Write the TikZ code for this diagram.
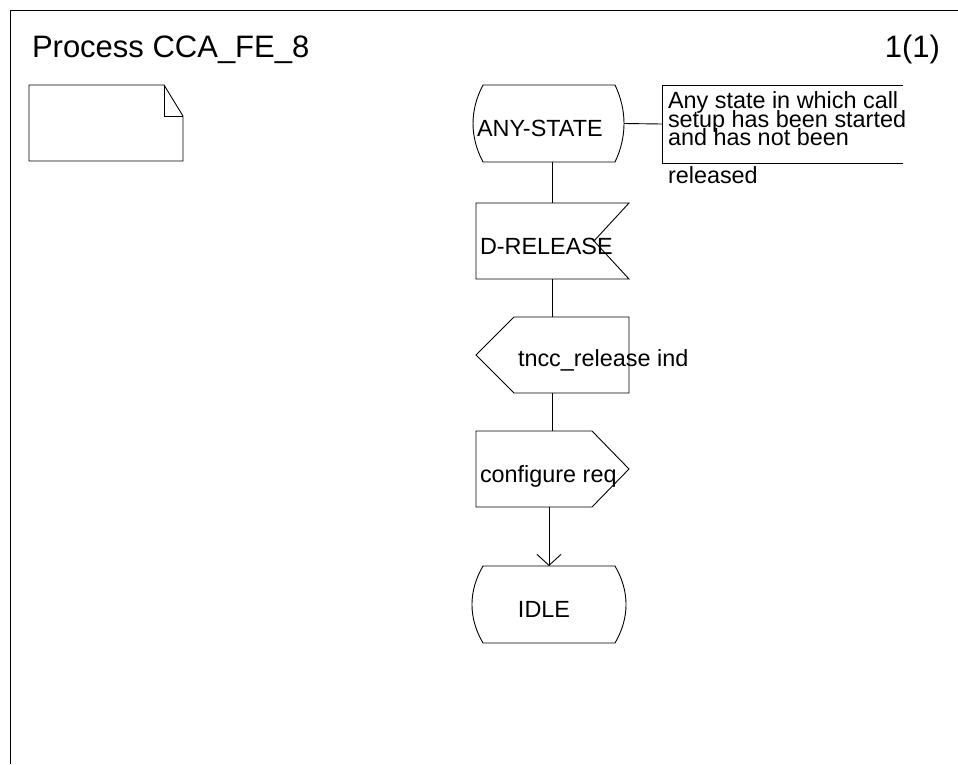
\documentclass[tikz,border=0pt]{standalone}
\usepackage{fontspec}
\setmainfont{Liberation Sans}
\usetikzlibrary{arrows.meta,calc}
\begin{document}
\begin{tikzpicture}[x=1pt,y=-1pt, line width=0.9pt,
  sym/.style={draw=none, inner sep=0, outer sep=0, rectangle},
  lbl/.style={inner sep=0, outer sep=0, anchor=base west, font=\fontsize{23.4}{28}\selectfont},
  ttl/.style={inner sep=0, outer sep=0, anchor=base west, font=\fontsize{31}{37}\selectfont},
  flow/.style={draw, line width=0.9pt},
  arr/.style={flow, -{Straight Barb[length=11pt,width=24pt]}}]
\useasboundingbox (0,0) rectangle (958,764);
% frame
\draw (958,10) -- (10,10) -- (10,764);
% title
\node[ttl] (title) at (32,57) {Process CCA\_FE\_8};
\node[ttl, anchor=base east] (page) at (940,57) {1(1)};
% text symbol
\node[sym, minimum width=154, minimum height=76] (txt) at (106,123) {};
\draw (txt.south west) -- (txt.north west) -- ($(txt.north east)+(-19,0)$) -- ($(txt.north east)+(0,31)$) -- (txt.south east) -- cycle;
\draw ($(txt.north east)+(-19,0)$) -- ($(txt.north east)+(-19,31)$) -- ($(txt.north east)+(0,31)$);
% ANY-STATE
\node[sym, minimum width=151, minimum height=77] (anystate) at (548.5,123.5) {};
\draw ($(anystate.north west)+(10,0)$) -- ($(anystate.north east)+(-9,0)$)
  .. controls ($(anystate.north east)+(3,25)$) and ($(anystate.south east)+(3,-25)$) .. ($(anystate.south east)+(-9,0)$)
  -- ($(anystate.south west)+(10,0)$)
  .. controls ($(anystate.south west)+(-3.3,-25)$) and ($(anystate.north west)+(-3.3,25)$) .. cycle;
\node[lbl] (anystatel) at (477,136) {ANY-STATE};
% comment
\node[sym, minimum width=241, minimum height=78] (note) at (782.5,124) {};
\draw (note.north east) -- (note.north west) -- (note.south west) -- (note.south east);
\draw[flow] (anystate.east) -- (note.west);
\node[lbl] (n1) at (668,108) {Any state in which call};
\node[lbl] (n2) at (668,127) {setup has been started};
\node[lbl] (n3) at (668,145) {and has not been};
\node[lbl] (n4) at (668,183) {released};
% D-RELEASE input
\node[sym, minimum width=153, minimum height=76] (drel) at (552.5,241) {};
\draw (drel.north west) -- (drel.north east) -- ($(drel.east)+(-35,0)$) -- (drel.south east) -- (drel.south west) -- cycle;
\node[lbl] (drell) at (480,254) {D-RELEASE};
\draw[flow] (anystate.south -| drel.north) -- (drel.north);
% tncc_release ind
\node[sym, minimum width=153, minimum height=76] (tncc) at (552.5,355) {};
\draw ($(tncc.north west)+(38,0)$) -- (tncc.north east) -- (tncc.south east) -- ($(tncc.south west)+(38,0)$) -- (tncc.west) -- cycle;
\node[lbl] (tnccl) at (518,366) {tncc\_release ind};
\draw[flow] (drel.south) -- (tncc.north);
% configure req output
\node[sym, minimum width=153, minimum height=76] (cfg) at (552.5,469) {};
\draw (cfg.north west) -- ($(cfg.north east)+(-37,0)$) -- (cfg.east) -- ($(cfg.south east)+(-37,0)$) -- (cfg.south west) -- cycle;
\node[lbl] (cfgl) at (480,482) {configure req};
\draw[flow] (tncc.south) -- (cfg.north);
% IDLE
\node[sym, minimum width=154, minimum height=77] (idle) at (549,604.5) {};
\draw ($(idle.north west)+(11,0)$) -- ($(idle.north east)+(-11,0)$)
  .. controls ($(idle.north east)+(3.7,25)$) and ($(idle.south east)+(3.7,-25)$) .. ($(idle.south east)+(-11,0)$)
  -- ($(idle.south west)+(11,0)$)
  .. controls ($(idle.south west)+(-3.7,-25)$) and ($(idle.north west)+(-3.7,25)$) .. cycle;
\node[lbl, anchor=base] (idlel) at (544,617) {IDLE};
\draw[arr] (cfg.south -| idle.north) -- (idle.north);
\end{tikzpicture}
\end{document}
